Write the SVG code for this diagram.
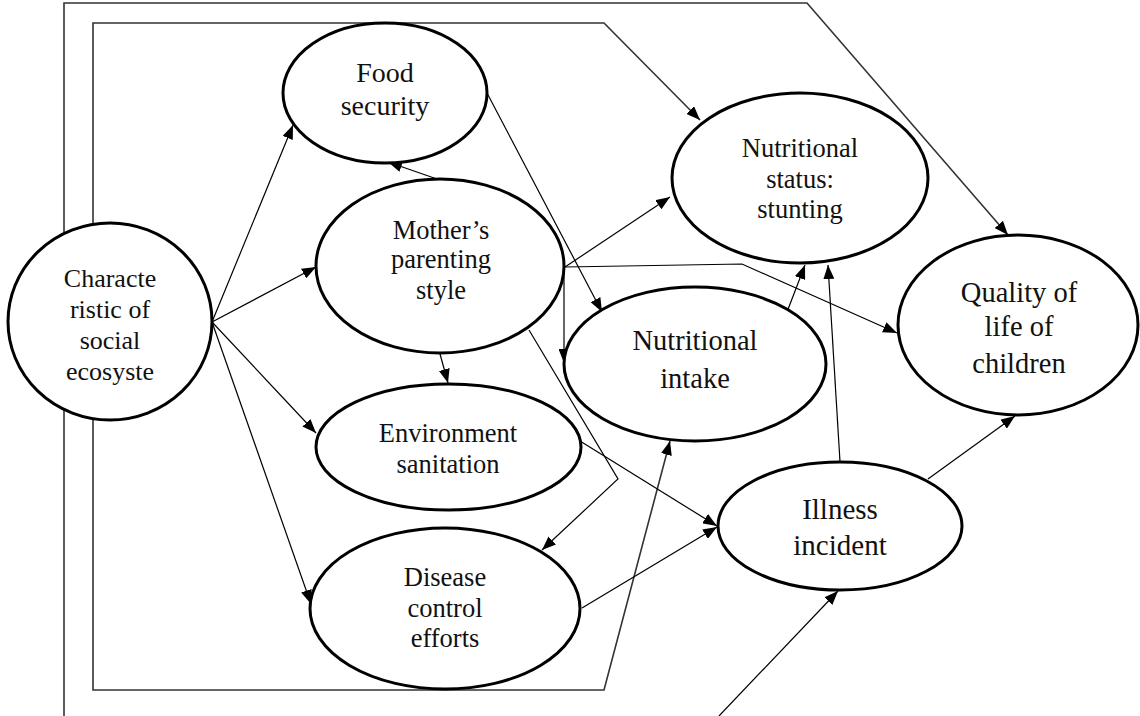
<svg xmlns="http://www.w3.org/2000/svg" width="1140" height="716" viewBox="0 0 1140 716">
<style>
.node ellipse{fill:#fff;stroke:#000;stroke-width:3}
.node text{font-family:"Liberation Serif","Times New Roman",serif;fill:#111;text-anchor:middle}
.c{fill:none;stroke:#000;stroke-width:1.2}
.f{fill:none;stroke:#333;stroke-width:1.6}
</style>
<defs>
<marker id="ah" markerUnits="userSpaceOnUse" markerWidth="14" markerHeight="11" refX="14" refY="5.5" orient="auto-start-reverse">
<path d="M0,0 L14,5.5 L0,11 z" fill="#000"/>
</marker>
</defs>
<rect width="1140" height="716" fill="#fff"/>
<g id="connectors">
<path class="f" d="M64,716 V3 H807 L1008,235" marker-end="url(#ah)"/>
<path class="f" d="M670,441 L604,690 H93 V23 H604 L700,120" marker-start="url(#ah)" marker-end="url(#ah)"/>
<path class="c" d="M212,322 L293,125" marker-end="url(#ah)"/>
<path class="c" d="M212,322 L316,267" marker-end="url(#ah)"/>
<path class="c" d="M212,322 L316,433" marker-end="url(#ah)"/>
<path class="c" d="M212,322 L311,604" marker-end="url(#ah)"/>
<path class="c" d="M437,179 L388,162" marker-end="url(#ah)"/>
<path class="c" d="M565,267 L670,197" marker-end="url(#ah)"/>
<path class="c" d="M565,267 L742,264 L897,333" marker-end="url(#ah)"/>
<path class="c" d="M564,267 L564,363" marker-end="url(#ah)"/>
<path class="c" d="M487,93 L602,312" marker-end="url(#ah)"/>
<path class="c" d="M440,354 L448,383" marker-end="url(#ah)"/>
<path class="c" d="M529,330 L618,479 L542,550" marker-end="url(#ah)"/>
<path class="c" d="M580,441 L717,526" marker-end="url(#ah)"/>
<path class="c" d="M582,608 L717,527" marker-end="url(#ah)"/>
<path class="c" d="M787,312 L805,265" marker-end="url(#ah)"/>
<path class="c" d="M840,462 L828,265" marker-end="url(#ah)"/>
<path class="c" d="M928,479 L1015,416" marker-end="url(#ah)"/>
<path class="c" d="M719,716 L838,591" marker-end="url(#ah)"/>
</g>
<g id="characteristic" class="node">
<ellipse cx="110" cy="321.5" rx="102" ry="98.5"/>
<text font-size="26"><tspan x="110" y="287">Characte</tspan><tspan x="110" y="318">ristic of</tspan><tspan x="110" y="349">social</tspan><tspan x="110" y="380">ecosyste</tspan></text>
</g>
<g id="food-security" class="node">
<ellipse cx="385" cy="93" rx="102" ry="70"/>
<text font-size="28"><tspan x="385" y="82">Food</tspan><tspan x="385" y="115">security</tspan></text>
</g>
<g id="mothers-parenting" class="node">
<ellipse cx="440" cy="266" rx="124" ry="87"/>
<text font-size="26.5"><tspan x="441" y="239">Mother’s</tspan><tspan x="441" y="268">parenting</tspan><tspan x="441" y="299">style</tspan></text>
</g>
<g id="nutritional-status" class="node">
<ellipse cx="800" cy="178" rx="128" ry="85"/>
<text font-size="26.5"><tspan x="800" y="157">Nutritional</tspan><tspan x="800" y="188">status:</tspan><tspan x="800" y="218">stunting</tspan></text>
</g>
<g id="nutritional-intake" class="node">
<ellipse cx="695" cy="364" rx="131" ry="77"/>
<text font-size="28.5"><tspan x="695" y="350">Nutritional</tspan><tspan x="695" y="388">intake</tspan></text>
</g>
<g id="quality-of-life" class="node">
<ellipse cx="1018" cy="325" rx="120" ry="90"/>
<text font-size="28.5"><tspan x="1019" y="302">Quality of</tspan><tspan x="1019" y="336">life of</tspan><tspan x="1019" y="373">children</tspan></text>
</g>
<g id="environment-sanitation" class="node">
<ellipse cx="448.5" cy="447" rx="132.5" ry="63"/>
<text font-size="26.5"><tspan x="448" y="442">Environment</tspan><tspan x="448" y="473">sanitation</tspan></text>
</g>
<g id="disease-control" class="node">
<ellipse cx="445" cy="608.5" rx="135" ry="80.5"/>
<text font-size="26.5"><tspan x="445" y="586">Disease</tspan><tspan x="445" y="617">control</tspan><tspan x="445" y="647">efforts</tspan></text>
</g>
<g id="illness-incident" class="node">
<ellipse cx="840" cy="526" rx="122" ry="64"/>
<text font-size="29"><tspan x="840" y="519">Illness</tspan><tspan x="840" y="555">incident</tspan></text>
</g>
</svg>
